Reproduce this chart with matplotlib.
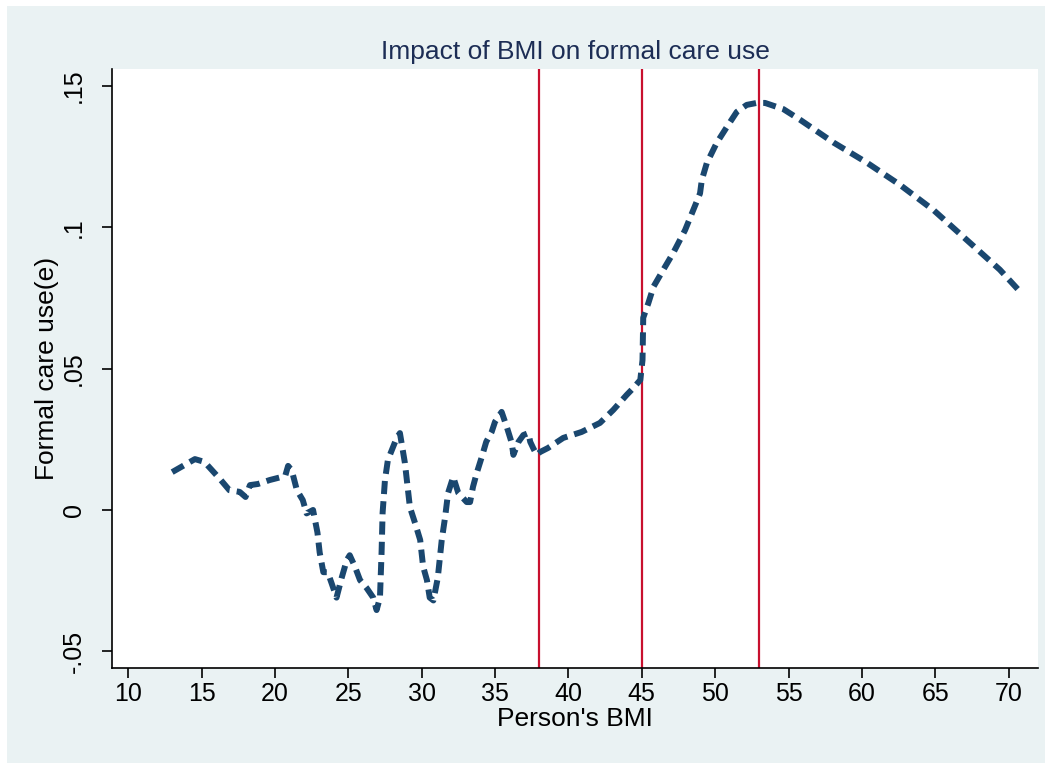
import matplotlib
matplotlib.use("Agg")
import matplotlib.pyplot as plt
from matplotlib.patches import Rectangle

plt.rcParams['font.family'] = ['Liberation Sans', 'DejaVu Sans']

# estimated effect of BMI on formal care use
bmi = [13.0, 14.55, 15.2, 16.25, 16.9, 17.6, 18.0, 18.3, 18.85, 19.65, 20.7, 20.9,
       21.15, 21.5, 21.9, 22.16, 22.6, 22.9, 23.05, 23.3, 23.6, 23.87, 24.2, 24.55,
       24.9, 25.1, 25.45, 25.8, 26.25, 26.7, 26.93, 27.16, 27.27, 27.34, 27.5, 27.7,
       28.3, 28.52, 28.86, 29.2, 29.55, 29.9, 30.1, 30.36, 30.55, 30.8, 31.1, 31.37,
       31.6, 31.8, 32.15, 32.5, 33.07, 33.3, 33.5, 33.75, 34.1, 34.4, 34.77, 35.0,
       35.45, 35.8, 36.14, 36.25, 36.6, 36.93, 37.27, 37.4, 37.6, 37.84, 38.07, 38.6,
       39.65, 40.9, 42.15, 43.06, 43.97, 44.4, 44.9, 45.05, 45.1, 45.45, 45.8, 46.47,
       47.15, 47.95, 48.5, 48.97, 49.09, 49.43, 50.1, 50.8, 51.47, 52.15, 52.84, 53.4,
       54.65, 55.8, 58.06, 60.3, 62.6, 64.9, 67.15, 69.4, 70.8]
effect = [0.0134, 0.018, 0.017, 0.011, 0.007, 0.0064, 0.0046, 0.0088, 0.0092, 0.0106,
          0.012, 0.0156, 0.014, 0.007, 0.0035, -0.0012, 0.0, -0.008, -0.015, -0.022,
          -0.022, -0.026, -0.031, -0.024, -0.0177, -0.016, -0.020, -0.0248, -0.0276,
          -0.031, -0.0354, -0.031, -0.015, -0.001, 0.0106, 0.0177, 0.0255, 0.0272,
          0.0166, 0.001, -0.0046, -0.0106, -0.020, -0.0248, -0.031, -0.032, -0.024,
          -0.0106, -0.0025, 0.006, 0.0117, 0.006, 0.0028, 0.0028, 0.0082, 0.013,
          0.0188, 0.0241, 0.0276, 0.0312, 0.0347, 0.0294, 0.0237, 0.0195, 0.0241,
          0.0265, 0.0272, 0.0241, 0.0219, 0.0195, 0.0205, 0.0219, 0.0255, 0.0276,
          0.0308, 0.0354, 0.0407, 0.043, 0.046, 0.053, 0.068, 0.0732, 0.079, 0.085,
          0.091, 0.099, 0.106, 0.112, 0.1167, 0.1227, 0.1298, 0.1355, 0.1408, 0.1433,
          0.144, 0.144, 0.1418, 0.138, 0.130, 0.123, 0.115, 0.106, 0.0955, 0.085, 0.0771]

cutoffs = [38, 45, 53]
xticks = list(range(10, 75, 5))
yticks = [-0.05, 0, 0.05, 0.1, 0.15]
ylabels = ['-.05', '0', '.05', '.1', '.15']

fig = plt.figure(figsize=(10.52, 7.69), dpi=100, facecolor='white')
fig.patches.append(Rectangle((7 / 1052, 6 / 769), 1038 / 1052, 757 / 769,
                             transform=fig.transFigure, facecolor='#eaf2f3',
                             edgecolor='none', zorder=-10))
ax = fig.add_axes([112 / 1052, 1 - 668 / 769, 926 / 1052, 599 / 769])
ax.set_facecolor('white')

ax.plot(bmi, effect, color='#1a476f', lw=4.3, dashes=(2.2, 1.2),
        solid_capstyle='butt', dash_capstyle='butt', zorder=3)
for c in cutoffs:
    ax.axvline(c, color='#c8102e', lw=1.6, zorder=2)

ax.set_xlim(8.9, 72.0)
ax.set_ylim(-0.0559, 0.156)
ax.set_xticks(xticks)
ax.set_yticks(yticks)
ax.set_yticklabels(ylabels, rotation=90, va='center')
ax.tick_params(labelsize=18, length=7, width=1.2, direction='out')
ax.tick_params(axis='x', pad=3)
ax.tick_params(axis='y', pad=12)
for s in ['top', 'right']:
    ax.spines[s].set_visible(False)
for s in ['left', 'bottom']:
    ax.spines[s].set_linewidth(1.2)

ax.set_title('Impact of BMI on formal care use', fontsize=19, color='#1c2d55', pad=7)
ax.set_xlabel("Person's BMI", fontsize=19, labelpad=1)
ax.set_ylabel('Formal care use(e)', fontsize=19, labelpad=2)

fig.savefig('out.png', dpi=100, facecolor='white')
